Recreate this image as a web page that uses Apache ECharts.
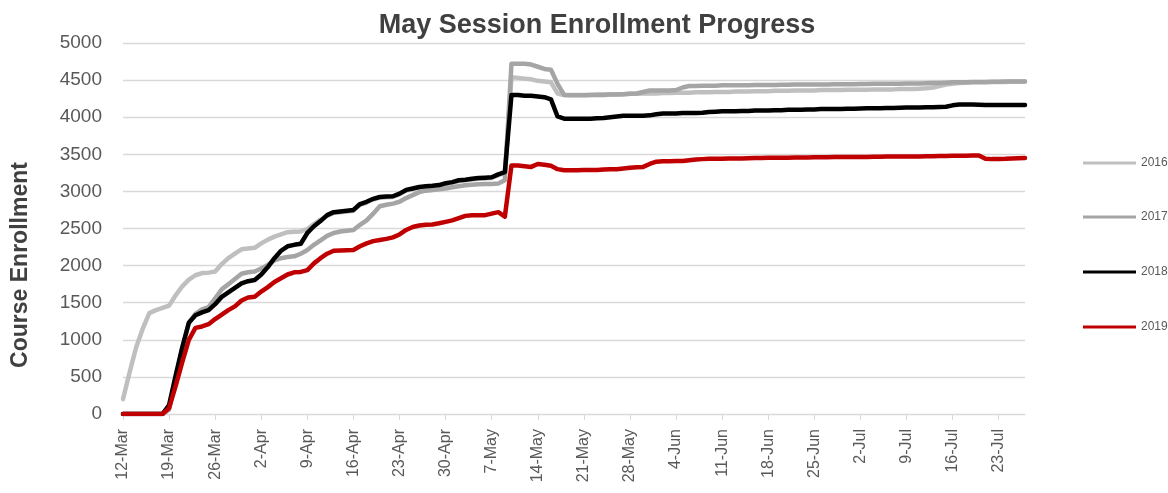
<!DOCTYPE html>
<html>
<head>
<meta charset="utf-8">
<script src="https://cdn.jsdelivr.net/npm/echarts@6/dist/echarts.min.js"></script>
<style>
html,body{margin:0;padding:0;background:#fff;}
#chart{width:1168px;height:493px;}
</style>
</head>
<body>
<div id="chart"></div>
<script>
const categories = [
'12-Mar','13-Mar','14-Mar','15-Mar','16-Mar','17-Mar','18-Mar','19-Mar','20-Mar','21-Mar','22-Mar','23-Mar','24-Mar','25-Mar','26-Mar','27-Mar','28-Mar','29-Mar','30-Mar','31-Mar',
'1-Apr','2-Apr','3-Apr','4-Apr','5-Apr','6-Apr','7-Apr','8-Apr','9-Apr','10-Apr','11-Apr','12-Apr','13-Apr','14-Apr','15-Apr','16-Apr','17-Apr','18-Apr','19-Apr','20-Apr','21-Apr','22-Apr','23-Apr','24-Apr','25-Apr','26-Apr','27-Apr','28-Apr','29-Apr','30-Apr',
'1-May','2-May','3-May','4-May','5-May','6-May','7-May','8-May','9-May','10-May','11-May','12-May','13-May','14-May','15-May','16-May','17-May','18-May','19-May','20-May','21-May','22-May','23-May','24-May','25-May','26-May','27-May','28-May','29-May','30-May','31-May',
'1-Jun','2-Jun','3-Jun','4-Jun','5-Jun','6-Jun','7-Jun','8-Jun','9-Jun','10-Jun','11-Jun','12-Jun','13-Jun','14-Jun','15-Jun','16-Jun','17-Jun','18-Jun','19-Jun','20-Jun','21-Jun','22-Jun','23-Jun','24-Jun','25-Jun','26-Jun','27-Jun','28-Jun','29-Jun','30-Jun',
'1-Jul','2-Jul','3-Jul','4-Jul','5-Jul','6-Jul','7-Jul','8-Jul','9-Jul','10-Jul','11-Jul','12-Jul','13-Jul','14-Jul','15-Jul','16-Jul','17-Jul','18-Jul','19-Jul','20-Jul','21-Jul','22-Jul','23-Jul','24-Jul','25-Jul','26-Jul','27-Jul'
];

const seriesNames = ['2016', '2017', '2018', '2019'];

const y2016 = [
200, 560, 900, 1150, 1360, 1400, 1430, 1460, 1600, 1720,
1810, 1870, 1900, 1905, 1920, 2020, 2100, 2160, 2220, 2230,
2240, 2300, 2350, 2390, 2420, 2450, 2455, 2460, 2490, 2560,
2620, 2670, 2710, 2720, 2730, 2740, 2820, 2850, 2890, 2915,
2920, 2925, 2960, 3010, 3030, 3050, 3060, 3065, 3075, 3100,
3115, 3140, 3150, 3160, 3170, 3175, 3180, 3220, 3250, 4540,
4530, 4520, 4510, 4490, 4480, 4470, 4320, 4300, 4300, 4300,
4300, 4300, 4305, 4305, 4310, 4310, 4310, 4315, 4315, 4320,
4320, 4320, 4325, 4325, 4330, 4330, 4330, 4335, 4335, 4335,
4340, 4340, 4340, 4345, 4345, 4345, 4350, 4350, 4350, 4355,
4355, 4355, 4360, 4360, 4360, 4360, 4365, 4365, 4365, 4365,
4370, 4370, 4370, 4370, 4375, 4375, 4375, 4375, 4380, 4380,
4380, 4385, 4390, 4400, 4420, 4440, 4450, 4460, 4465, 4470,
4470, 4470, 4475, 4475, 4475, 4480, 4480, 4480
];

const y2017 = [
0, 0, 0, 0, 0, 0, 0, 60, 480, 880,
1230, 1350, 1410, 1440, 1560, 1680, 1750, 1820, 1890, 1910,
1920, 1960, 2010, 2070, 2100, 2115, 2125, 2160, 2210, 2280,
2340, 2400, 2440, 2460, 2470, 2480, 2550, 2610, 2700, 2800,
2820, 2835, 2860, 2910, 2950, 2990, 3010, 3020, 3030, 3040,
3055, 3070, 3082, 3090, 3095, 3100, 3100, 3105, 3150, 4720,
4720, 4720, 4710, 4680, 4650, 4640, 4450, 4300, 4295, 4295,
4295, 4300, 4300, 4300, 4305, 4305, 4310, 4315, 4320, 4340,
4360, 4360, 4360, 4360, 4365, 4400, 4420, 4420, 4425, 4425,
4425, 4430, 4430, 4430, 4430, 4432, 4435, 4435, 4435, 4435,
4438, 4438, 4440, 4440, 4440, 4440, 4442, 4442, 4445, 4445,
4445, 4445, 4448, 4448, 4450, 4450, 4450, 4450, 4452, 4455,
4455, 4455, 4458, 4460, 4460, 4465, 4470, 4470, 4472, 4475,
4475, 4475, 4478, 4478, 4480, 4480, 4480, 4480
];

const y2018 = [
0, 0, 0, 0, 0, 0, 0, 120, 520, 900,
1230, 1330, 1370, 1400, 1480, 1580, 1640, 1700, 1760, 1790,
1805, 1880, 1980, 2100, 2200, 2260, 2280, 2295, 2440, 2530,
2600, 2680, 2720, 2730, 2740, 2750, 2830, 2860, 2900, 2925,
2930, 2935, 2970, 3020, 3040, 3060, 3070, 3075, 3085, 3110,
3125, 3150, 3158, 3170, 3180, 3185, 3190, 3230, 3260, 4300,
4300, 4290, 4290, 4280, 4270, 4240, 4010, 3980, 3980, 3980,
3980, 3980, 3985, 3990, 4000, 4010, 4020, 4020, 4020, 4020,
4025, 4040, 4050, 4050, 4050, 4055, 4055, 4055, 4060, 4070,
4075, 4080, 4080, 4080, 4085, 4085, 4090, 4090, 4090, 4095,
4095, 4100, 4100, 4100, 4105, 4105, 4110, 4110, 4110, 4112,
4115, 4115, 4118, 4120, 4120, 4122, 4125, 4125, 4128, 4130,
4130, 4132, 4135, 4135, 4138, 4140, 4160, 4170, 4170, 4170,
4168, 4165, 4165, 4165, 4165, 4165, 4165, 4165
];

const y2019 = [
0, 0, 0, 0, 0, 0, 0, 80, 380, 700,
1000, 1160, 1180, 1210, 1280, 1340, 1400, 1450, 1530, 1570,
1580, 1650, 1710, 1780, 1830, 1880, 1910, 1915, 1940, 2030,
2100, 2160, 2200, 2205, 2208, 2210, 2260, 2300, 2330, 2345,
2360, 2380, 2420, 2480, 2520, 2540, 2550, 2555, 2570, 2590,
2610, 2640, 2670, 2680, 2680, 2680, 2700, 2720, 2660, 3350,
3350, 3340, 3330, 3370, 3360, 3345, 3300, 3285, 3285, 3285,
3290, 3290, 3290, 3295, 3300, 3300, 3310, 3320, 3325, 3330,
3370, 3400, 3405, 3405, 3410, 3410, 3420, 3430, 3435, 3440,
3440, 3440, 3445, 3445, 3445, 3448, 3450, 3450, 3452, 3455,
3455, 3455, 3456, 3458, 3458, 3460, 3460, 3460, 3462, 3462,
3462, 3465, 3465, 3465, 3468, 3468, 3470, 3470, 3470, 3470,
3472, 3472, 3475, 3475, 3478, 3478, 3480, 3480, 3482, 3485,
3485, 3440, 3435, 3438, 3440, 3445, 3448, 3450
];

const seriesData = [y2016, y2017, y2018, y2019];
const colors = ['#BFBFBF', '#A5A5A5', '#000000', '#C00000'];
const legendTops = [157, 211, 266, 321];

const chart = echarts.init(document.getElementById('chart'), null, {renderer: 'canvas'});

const option = {
  animation: false,
  backgroundColor: '#ffffff',
  title: {
    text: 'May Session Enrollment Progress',
    left: 592,
    textAlign: 'center',
    top: 7,
    textStyle: {
      fontFamily: 'Liberation Sans',
      fontSize: 27,
      fontWeight: 'bold',
      color: '#404040'
    }
  },
  legend: seriesNames.map((n, i) => ({
    data: [n],
    orient: 'vertical',
    left: 1083,
    top: legendTops[i],
    padding: 0,
    icon: 'rect',
    itemWidth: 53,
    itemHeight: 3,
    itemGap: 4,
    textStyle: {
      fontFamily: 'Liberation Sans',
      fontSize: 12,
      color: '#595959'
    }
  })),
  grid: {
    left: 123,
    right: 143,
    top: 43,
    bottom: 79,
    containLabel: false
  },
  xAxis: {
    type: 'category',
    data: categories,
    boundaryGap: false,
    axisLine: { show: true, lineStyle: { color: '#D9D9D9', width: 1 } },
    axisTick: { show: true, interval: 6, length: 6, lineStyle: { color: '#D9D9D9' } },
    axisLabel: {
      interval: 6,
      rotate: 90,
      margin: 15,
      fontFamily: 'Liberation Sans',
      fontSize: 16,
      color: '#595959'
    },
    splitLine: { show: false }
  },
  yAxis: {
    type: 'value',
    min: 0,
    max: 5000,
    interval: 500,
    axisLine: { show: false },
    axisTick: { show: false },
    axisLabel: {
      margin: 21,
      fontFamily: 'Liberation Sans',
      fontSize: 19,
      color: '#595959',
      formatter: function (v) { return String(v); }
    },
    splitLine: { show: true, lineStyle: { color: '#D9D9D9', width: 1.3 } }
  },
  graphic: [{
    type: 'text',
    x: 21,
    y: 265,
    rotation: Math.PI / 2,
    style: {
      text: 'Course Enrollment',
      fontFamily: 'Liberation Sans',
      fontSize: 23,
      fontWeight: 'bold',
      fill: '#404040',
      textAlign: 'center',
      textVerticalAlign: 'middle'
    }
  }],
  series: seriesNames.map((n, i) => ({
    name: n,
    type: 'line',
    data: seriesData[i],
    showSymbol: false,
    symbol: 'none',
    smooth: false,
    color: colors[i],
    lineStyle: { color: colors[i], width: 4.5, cap: 'round', join: 'round' },
    z: 2 + i
  }))
};

chart.setOption(option);
</script>
</body>
</html>
